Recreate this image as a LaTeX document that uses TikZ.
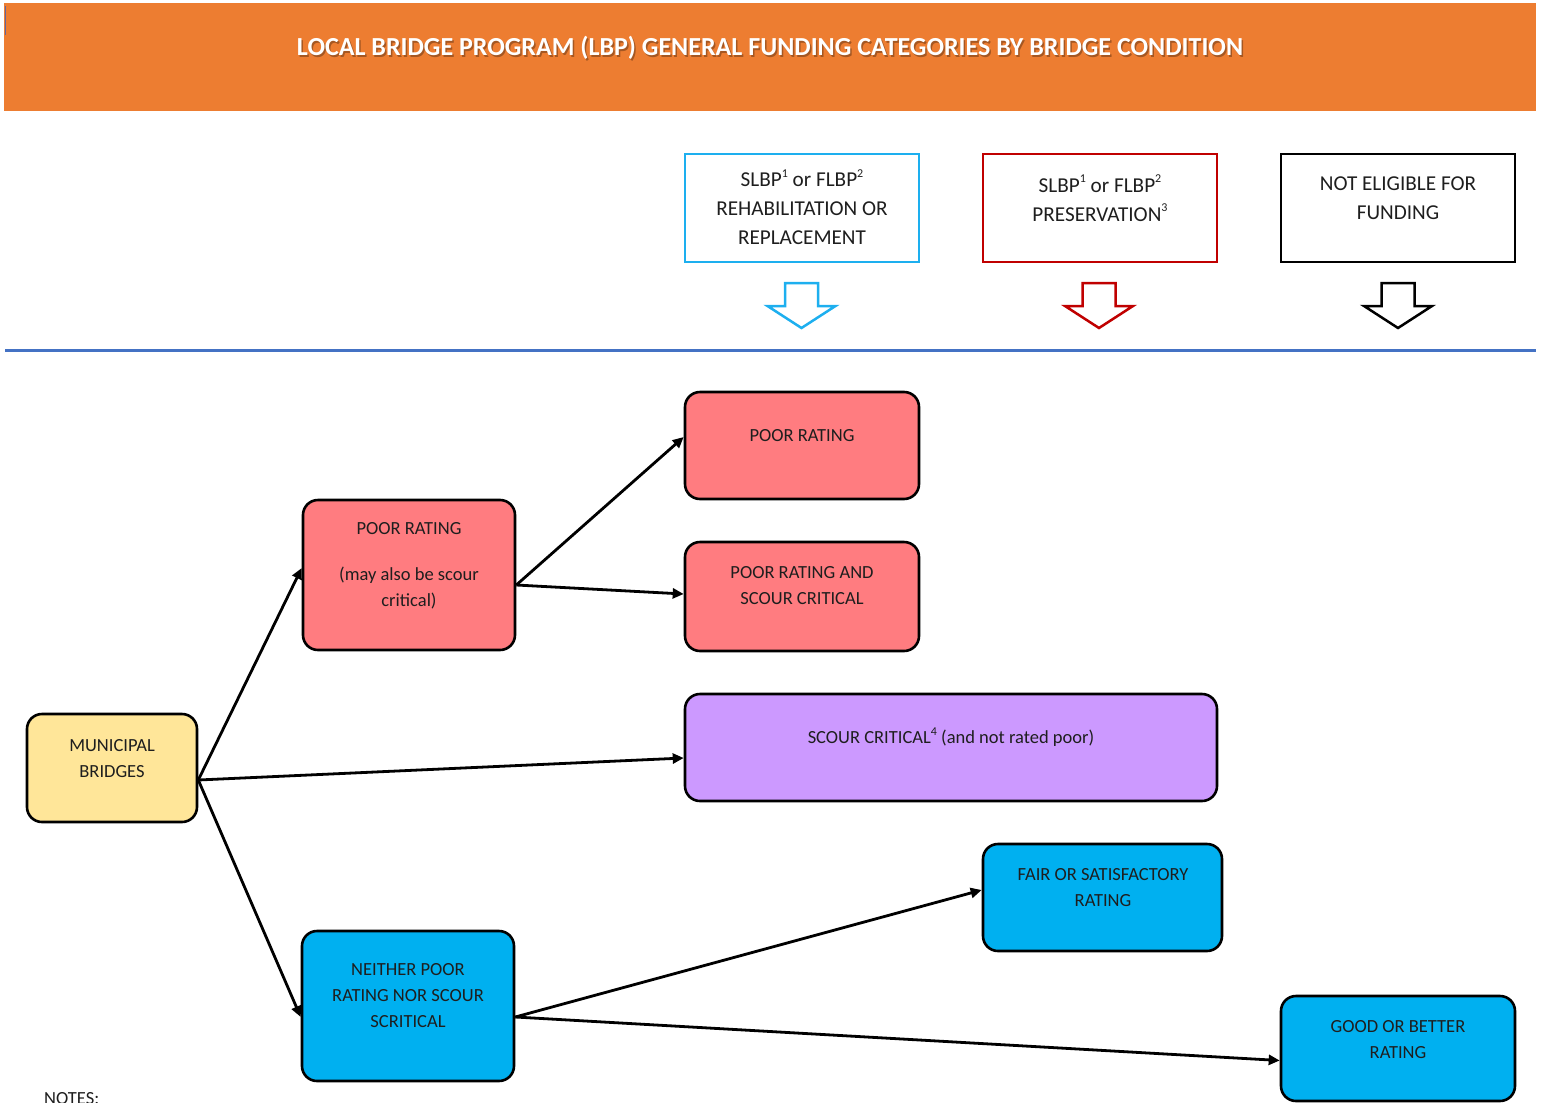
\documentclass[tikz,border=0pt]{standalone}
\usepackage{fontspec}
\setmainfont{Carlito}
\usetikzlibrary{arrows.meta}
\definecolor{orangec}{HTML}{ED7D31}
\definecolor{bluec}{HTML}{1DAFEF}
\definecolor{redc}{HTML}{C00000}
\definecolor{linec}{HTML}{4472C4}
\definecolor{salmon}{HTML}{FF7C80}
\definecolor{yellowc}{HTML}{FFE699}
\definecolor{purplec}{HTML}{CC99FF}
\definecolor{cyanc}{HTML}{00B0F0}
\definecolor{textc}{HTML}{1E1E1E}
\newcommand{\mysup}[1]{\raisebox{0.45em}{\fontsize{12}{12}\selectfont #1}}
\begin{document}
\begin{tikzpicture}[x=1pt,y=-1pt,
  hdr/.style={draw, line width=2.5pt, minimum width=234pt, minimum height=108pt, inner sep=0},
  box/.style={draw=black, line width=2.6pt, rounded corners=15pt, inner sep=0},
  txt/.style={align=center, font=\fontsize{18.5}{26}\selectfont, text=textc, inner sep=0},
  htxt/.style={align=center, font=\fontsize{21.2}{29}\selectfont, text=textc, inner sep=0},
  arr/.style={line width=2.8pt, -{Triangle[length=11pt,width=10pt]}},
  darr/.style={line width=2.5pt, fill=white, line join=miter}
]
\useasboundingbox (0,0) rectangle (1545,1103);
% banner
\fill[orangec] (4,3) rectangle (1536,111);
\draw[gray!80!blue, line width=1pt] (5.5,6) -- (5.5,35);
\node[font=\fontsize{26}{30}\selectfont\bfseries, text=black, opacity=0.3, inner sep=0] (titlesh) at (771.5,49.5) {LOCAL BRIDGE PROGRAM (LBP) GENERAL FUNDING CATEGORIES BY BRIDGE CONDITION};
\node[font=\fontsize{26}{30}\selectfont\bfseries, text=white, inner sep=0] (title) at (770,48) {LOCAL BRIDGE PROGRAM (LBP) GENERAL FUNDING CATEGORIES BY BRIDGE CONDITION};
% header boxes
\node[hdr, draw=bluec] (h1) at (802,208) {};
\node[hdr, draw=redc] (h2) at (1100,208) {};
\node[hdr, draw=black] (h3) at (1398,208) {};
\node[htxt] (h1t) at (802,207) {SLBP\mysup{1} or FLBP\mysup{2}\\REHABILITATION OR\\REPLACEMENT};
\node[htxt] (h2t) at (1100,198) {SLBP\mysup{1} or FLBP\mysup{2}\\PRESERVATION\mysup{3}};
\node[htxt] (h3t) at (1398,198) {NOT ELIGIBLE FOR\\FUNDING};
% down block arrows
\foreach \cx/\col in {801.5/bluec, 1099/redc, 1398/black}{
  \draw[darr, draw=\col, shift={(\cx,0)}] (-16.5,283) -- (16.5,283) -- (16.5,306) -- (34,306) -- (0,328) -- (-34,306) -- (-16.5,306) -- cycle;
}
% separator
\draw[linec, line width=3pt] (5,350) -- (1536,350);
% boxes
\node[box, fill=salmon, minimum width=234pt, minimum height=107pt] (poorT) at (802,445.5) {};
\node[box, fill=salmon, minimum width=234pt, minimum height=109pt] (poorS) at (802,596.5) {};
\node[box, fill=salmon, minimum width=212pt, minimum height=150pt] (poorL) at (409,575) {};
\node[box, fill=yellowc, minimum width=170pt, minimum height=108pt] (mun) at (112,768) {};
\node[box, fill=purplec, minimum width=532pt, minimum height=107pt] (scour) at (951,747.5) {};
\node[box, fill=cyanc, minimum width=239pt, minimum height=107pt] (fair) at (1102.5,897.5) {};
\node[box, fill=cyanc, minimum width=212pt, minimum height=150pt] (neither) at (408,1006) {};
\node[box, fill=cyanc, minimum width=234pt, minimum height=105pt] (good) at (1398,1048.5) {};
% texts
\node[txt] (poorTt) at (802,436) {POOR RATING};
\node[txt] (poorSt) at (802,586) {POOR RATING AND\\SCOUR CRITICAL};
\node[txt] (poorLt) at (409,566) {POOR RATING\\[20pt](may also be scour\\critical)};
\node[txt] (munt) at (112,759) {MUNICIPAL\\BRIDGES};
\node[txt] (scourt) at (951,737) {SCOUR CRITICAL\mysup{4} (and not rated poor)};
\node[txt] (fairt) at (1103,888) {FAIR OR SATISFACTORY\\RATING};
\node[txt] (neithert) at (408,995.5) {NEITHER POOR\\RATING NOR SCOUR\\SCRITICAL};
\node[txt] (goodt) at (1398,1039.5) {GOOD OR BETTER\\RATING};
\node[txt, anchor=north west] (notes) at (44,1092) {NOTES:};
% connectors
\draw[arr] ([yshift=-12pt]mun.east) -- ([yshift=7pt]poorL.west);
\draw[arr] ([yshift=-12pt]mun.east) -- ([yshift=-10.5pt]scour.west);
\draw[arr] ([yshift=-12pt]mun.east) -- ([yshift=-11pt]neither.west);
\draw[arr] ([yshift=-10pt]poorL.east) -- ([yshift=8.5pt]poorT.west);
\draw[arr] ([yshift=-10pt]poorL.east) -- ([yshift=2.5pt]poorS.west);
\draw[arr] ([yshift=-11pt]neither.east) -- ([yshift=7.5pt]fair.west);
\draw[arr] ([yshift=-11pt]neither.east) -- ([yshift=-12pt]good.west);
\end{tikzpicture}
\end{document}
